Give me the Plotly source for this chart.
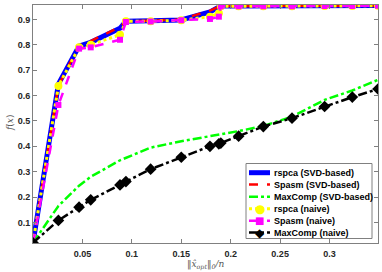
import plotly.graph_objects as go

x_sparsity = [0, 0.0257, 0.0466, 0.0584, 0.088, 0.094, 0.119, 0.150, 0.179, 0.188,
              0.190, 0.208, 0.233, 0.262, 0.295, 0.323, 0.349]

rspca_svd = [0.02, 0.645, 0.795, 0.81, 0.865, 0.893, 0.895, 0.898, 0.93, 0.946,
             0.953, 0.953, 0.953, 0.953, 0.954, 0.954, 0.955]
spasm_svd = [0.02, 0.64, 0.797, 0.815, 0.87, 0.893, 0.895, 0.9, 0.935, 0.948,
             0.953, 0.953, 0.953, 0.953, 0.954, 0.954, 0.955]
maxcomp_svd = [0.02, 0.165, 0.245, 0.28, 0.345, 0.355, 0.395, 0.42, 0.44, 0.445,
               0.447, 0.46, 0.48, 0.517, 0.583, 0.62, 0.662]
rspca_naive = [0.02, 0.638, 0.79, 0.80, 0.84, 0.893, 0.893, 0.897, 0.911, 0.924,
               0.952, 0.952, 0.952, 0.952, 0.953, 0.953, 0.954]
spasm_naive = [0.02, 0.563, 0.785, 0.79, 0.82, 0.89, 0.892, 0.897, 0.902, 0.911,
               0.952, 0.952, 0.952, 0.952, 0.953, 0.953, 0.954]
maxcomp_naive = [0.02, 0.108, 0.16, 0.189, 0.248, 0.261, 0.31, 0.357, 0.40, 0.41,
                 0.413, 0.44, 0.478, 0.511, 0.557, 0.594, 0.626]

series_names = ["rspca (SVD-based)", "Spasm (SVD-based)", "MaxComp (SVD-based)",
                "rspca (naive)", "Spasm (naive)", "MaxComp (naive)"]

x_ticks = [0.05, 0.1, 0.15, 0.2, 0.25, 0.3]
x_ticklabels = ["0.05", "0.1", "0.15", "0.2", "0.25", "0.3"]
y_ticks = [0.1, 0.2, 0.3, 0.4, 0.5, 0.6, 0.7, 0.8, 0.9]
y_ticklabels = ["0.1", "0.2", "0.3", "0.4", "0.5", "0.6", "0.7", "0.8", "0.9"]

W, H = 382, 272
ML, MR, MT, MB = 33, 4, 5, 29
PW, PH = W - ML - MR, H - MT - MB


def px(xp):
    return (xp - ML) / PW


def py(yp):
    return (H - MB - yp) / PH


styles = [
    dict(line=dict(color="#0000ff", width=5, dash="solid"), marker=None),
    dict(line=dict(color="#ff0000", width=2.5, dash="dash"), marker=None),
    dict(line=dict(color="#00ff00", width=2.5, dash="dashdot"), marker=None),
    dict(line=dict(color="#ffff00", width=3, dash="dot"),
         marker=dict(symbol="circle", size=8, color="#ffff00")),
    dict(line=dict(color="#ff00ff", width=2.5, dash="dash"),
         marker=dict(symbol="square", size=6, color="#ff00ff")),
    dict(line=dict(color="#000000", width=2.5, dash="dashdot"),
         marker=dict(symbol="diamond", size=9, color="#000000")),
]
series_values = [rspca_svd, spasm_svd, maxcomp_svd, rspca_naive, spasm_naive, maxcomp_naive]

fig = go.Figure()
for name, vals, st in zip(series_names, series_values, styles):
    kw = dict(x=x_sparsity, y=vals, name=name, line=st["line"], showlegend=False)
    if st["marker"]:
        kw["mode"] = "lines+markers"
        kw["marker"] = st["marker"]
    else:
        kw["mode"] = "lines"
    fig.add_trace(go.Scatter(**kw))

axis_common = dict(showgrid=False, zeroline=False, showline=True, linecolor="#808080",
                   linewidth=1, mirror="ticks", ticks="inside", ticklen=4,
                   tickcolor="#808080",
                   tickfont=dict(family="Liberation Sans", size=9, color="#262626", weight="bold"))

shapes = []
annotations = []

# custom compact legend (MATLAB style)
leg_x0, leg_x1, leg_y0, leg_y1 = 246, 372, 163.5, 238.5
shapes.append(dict(type="rect", xref="paper", yref="paper",
                   x0=px(leg_x0), x1=px(leg_x1), y0=py(leg_y1), y1=py(leg_y0),
                   fillcolor="white", line=dict(color="#808080", width=1), layer="above"))
row_y = [172.7, 184.5, 196.7, 208.8, 220.7, 232.6]
marker_glyph = {"circle": ("●", 12), "square": ("■", 10), "diamond": ("◆", 12)}
for name, st, yy in zip(series_names, styles, row_y):
    ln = st["line"]
    shapes.append(dict(type="line", xref="paper", yref="paper",
                       x0=px(249), x1=px(270), y0=py(yy), y1=py(yy),
                       line=dict(color=ln["color"], width=ln["width"], dash=ln["dash"]),
                       layer="above"))
    if st["marker"]:
        g, s = marker_glyph[st["marker"]["symbol"]]
        annotations.append(dict(xref="paper", yref="paper", x=px(259.5), y=py(yy),
                                text=g, showarrow=False, xanchor="center", yanchor="middle",
                                font=dict(size=s, color=st["marker"]["color"], family="DejaVu Sans")))
    annotations.append(dict(xref="paper", yref="paper", x=px(272), y=py(yy),
                            text=name, showarrow=False, xanchor="left", yanchor="middle",
                            font=dict(family="Liberation Sans", size=9, color="#000000",
                                      weight="bold")))

# axis titles
annotations.append(dict(xref="paper", yref="paper", x=px(205), y=py(265),
                        text="<i>‖x̂<sub>opt</sub>‖<sub>0</sub>/n</i>", showarrow=False,
                        xanchor="center", yanchor="middle",
                        font=dict(family="DejaVu Serif", size=9, color="#555555")))
annotations.append(dict(xref="paper", yref="paper", x=px(10), y=py(123),
                        text="<i>f</i>(<i>x</i>)", showarrow=False, textangle=-90,
                        xanchor="center", yanchor="middle",
                        font=dict(family="DejaVu Serif", size=9, color="#555555")))

fig.update_layout(
    width=W, height=H,
    margin=dict(l=ML, r=MR, t=MT, b=MB),
    paper_bgcolor="white", plot_bgcolor="white",
    showlegend=False, hovermode=False,
    shapes=shapes, annotations=annotations,
    xaxis=dict(range=[0, 0.349], tickvals=x_ticks, ticktext=x_ticklabels,
               ticklabelstandoff=2, **axis_common),
    yaxis=dict(range=[0.019, 0.957], tickvals=y_ticks, ticktext=y_ticklabels,
               **axis_common),
)

fig.write_html("out.html", config={"displayModeBar": False},
               post_script="document.body.style.margin='0';document.body.style.overflow='hidden';")
